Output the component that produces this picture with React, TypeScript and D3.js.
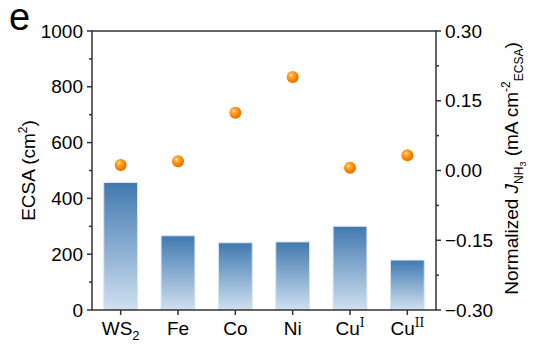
import React from "react";
import * as d3 from "d3";

const categories = ["WS2", "Fe", "Co", "Ni", "CuI", "CuII"];
const ecsaValues = [457, 266, 241, 244, 300, 179];
const jnh3Values = [0.012, 0.02, 0.124, 0.201, 0.006, 0.033];
const leftTicks = [0, 200, 400, 600, 800, 1000];
const rightTicks = [-0.3, -0.15, 0, 0.15, 0.3];

const W = 536, H = 355;
const m = { left: 92, right: 100, top: 31, bottom: 45 };
const font = "Liberation Sans, Arial, sans-serif";
const axisColor = "#333";
const FS = 19;

export default function App() {
  const x = d3.scaleBand<string>().domain(categories).range([m.left, W - m.right]).paddingInner(0.41).paddingOuter(0.205);
  const y = d3.scaleLinear().domain([0, 1000]).range([H - m.bottom, m.top]);
  const y2 = d3.scaleLinear().domain([-0.3, 0.3]).range([H - m.bottom, m.top]);
  const x0 = m.left, x1 = W - m.right, yb = H - m.bottom, yt = m.top;
  const leftMinor = d3.range(100, 1000, 200);
  const rightMinor = d3.range(-0.225, 0.3, 0.15);

  const label = (c: string) => {
    if (c === "WS2") return (<>WS<tspan fontSize={13} dy={5}>2</tspan></>);
    if (c === "CuI") return (<>Cu<tspan fontSize={12} dy={-8} fontFamily="DejaVu Serif, serif">I</tspan></>);
    if (c === "CuII") return (<>Cu<tspan fontSize={12} dy={-8} fontFamily="DejaVu Serif, serif">II</tspan></>);
    return c;
  };

  return (
    <svg width={W} height={H} style={{ position: "absolute", left: 0, top: 0 }} fontFamily={font}>
      <defs>
        <linearGradient id="barG" x1="0" y1="0" x2="0" y2="1">
          <stop offset="0%" stopColor="#4179b0" />
          <stop offset="100%" stopColor="#cfe0f0" />
        </linearGradient>
        <radialGradient id="dotG" cx="0.38" cy="0.35" r="0.65">
          <stop offset="0%" stopColor="#fff6e8" />
          <stop offset="22%" stopColor="#ffb040" />
          <stop offset="60%" stopColor="#ff8a00" />
          <stop offset="100%" stopColor="#e86a00" />
        </radialGradient>
      </defs>
      <rect width={W} height={H} fill="#fff" />
      <text x={9} y={30} fontSize={38} fill="#000">e</text>
      {categories.map((c, i) => (
        <rect key={c} x={x(c)} y={y(ecsaValues[i])} width={x.bandwidth()} height={yb - y(ecsaValues[i])}
          fill="url(#barG)" stroke="#d8e6f2" strokeWidth={1} />
      ))}
      {categories.map((c, i) => (
        <circle key={c} cx={x(c)! + x.bandwidth() / 2} cy={y2(jnh3Values[i])} r={6} fill="url(#dotG)" />
      ))}
      <rect x={x0} y={yt} width={x1 - x0} height={yb - yt} fill="none" stroke={axisColor} strokeWidth={1.5} />
      {leftTicks.map(t => (
        <g key={t}>
          <line x1={x0} x2={x0 - 5} y1={y(t)} y2={y(t)} stroke={axisColor} strokeWidth={1.5} />
          <text x={x0 - 9} y={y(t)} dy="0.35em" textAnchor="end" fontSize={FS}>{t}</text>
        </g>
      ))}
      {leftMinor.map(t => (
        <line key={t} x1={x0} x2={x0 - 3} y1={y(t)} y2={y(t)} stroke={axisColor} strokeWidth={1.5} />
      ))}
      {rightTicks.map(t => (
        <g key={t}>
          <line x1={x1} x2={x1 + 5} y1={y2(t)} y2={y2(t)} stroke={axisColor} strokeWidth={1.5} />
          <text x={x1 + 9} y={y2(t)} dy="0.35em" textAnchor="start" fontSize={FS}>{d3.format(".2f")(t)}</text>
        </g>
      ))}
      {rightMinor.map(t => (
        <line key={t} x1={x1} x2={x1 + 3} y1={y2(t)} y2={y2(t)} stroke={axisColor} strokeWidth={1.5} />
      ))}
      {categories.map(c => {
        const cx = x(c)! + x.bandwidth() / 2;
        return (
          <g key={c}>
            <line x1={cx} x2={cx} y1={yb} y2={yb + 5} stroke={axisColor} strokeWidth={1.5} />
            <text x={cx} y={yb + 25} textAnchor="middle" fontSize={FS}>{label(c)}</text>
          </g>
        );
      })}
      <text transform={`translate(35,${(yt + yb) / 2}) rotate(-90)`} textAnchor="middle" fontSize={FS}>
        ECSA (cm<tspan fontSize={12} dy={-8}>2</tspan><tspan dy={8}>)</tspan>
      </text>
      <text transform={`translate(518,${(yt + yb) / 2 - 2}) rotate(-90)`} textAnchor="middle" fontSize={FS}>
        Normalized <tspan fontStyle="italic">J</tspan><tspan fontSize={12} dy={5}>NH</tspan><tspan fontSize={9} dy={3}>3</tspan><tspan dy={-8}> (mA cm</tspan><tspan fontSize={12} dy={-8}>-2</tspan><tspan fontSize={12} dy={13}>ECSA</tspan><tspan dy={-5}>)</tspan>
      </text>
    </svg>
  );
}
